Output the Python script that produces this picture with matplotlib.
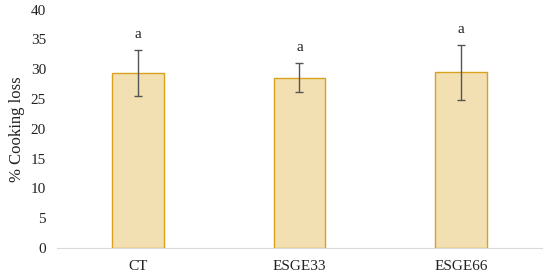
import matplotlib
matplotlib.use("Agg")
import matplotlib.pyplot as plt
import numpy as np

categories = ["CT", "ESGE33", "ESGE66"]
values = [29.4, 28.6, 29.5]
errors = [3.9, 2.5, 4.6]
letters = ["a", "a", "a"]

plt.rcParams['font.family'] = ['Liberation Serif', 'DejaVu Serif']

fig = plt.figure(figsize=(5.50, 2.77), dpi=100)
ax = fig.add_axes([0.104, 0.105, 0.881, 0.86])

x = np.arange(len(categories))
ax.bar(x, values, width=0.32, color="#F2DFB2", edgecolor="#D9A21E", linewidth=1.0, zorder=2)
ax.errorbar(x, values, yerr=errors, fmt="none", ecolor="#555555", elinewidth=1.0,
            capsize=3, capthick=1.0, zorder=3)
for xi, v, e, t in zip(x, values, errors, letters):
    ax.annotate(t, (xi, v + e), xytext=(0, 6), textcoords="offset points",
                ha="center", va="bottom", fontsize=11, color="#222222")

ax.set_xlim(-0.5, 2.5)
ax.set_ylim(0, 40)
ax.set_yticks(range(0, 41, 5))
ax.set_xticks(x)
ax.set_xticklabels(categories)
ax.set_ylabel("% Cooking loss", fontsize=12, color="#222222", labelpad=4)
for s in ["top", "right", "left"]:
    ax.spines[s].set_visible(False)
ax.spines["bottom"].set_color("#D9D9D9")
ax.tick_params(axis="both", length=0, labelsize=11, colors="#222222")
ax.tick_params(axis="x", pad=9)
ax.tick_params(axis="y", pad=8)

fig.savefig("out.png", dpi=100)
